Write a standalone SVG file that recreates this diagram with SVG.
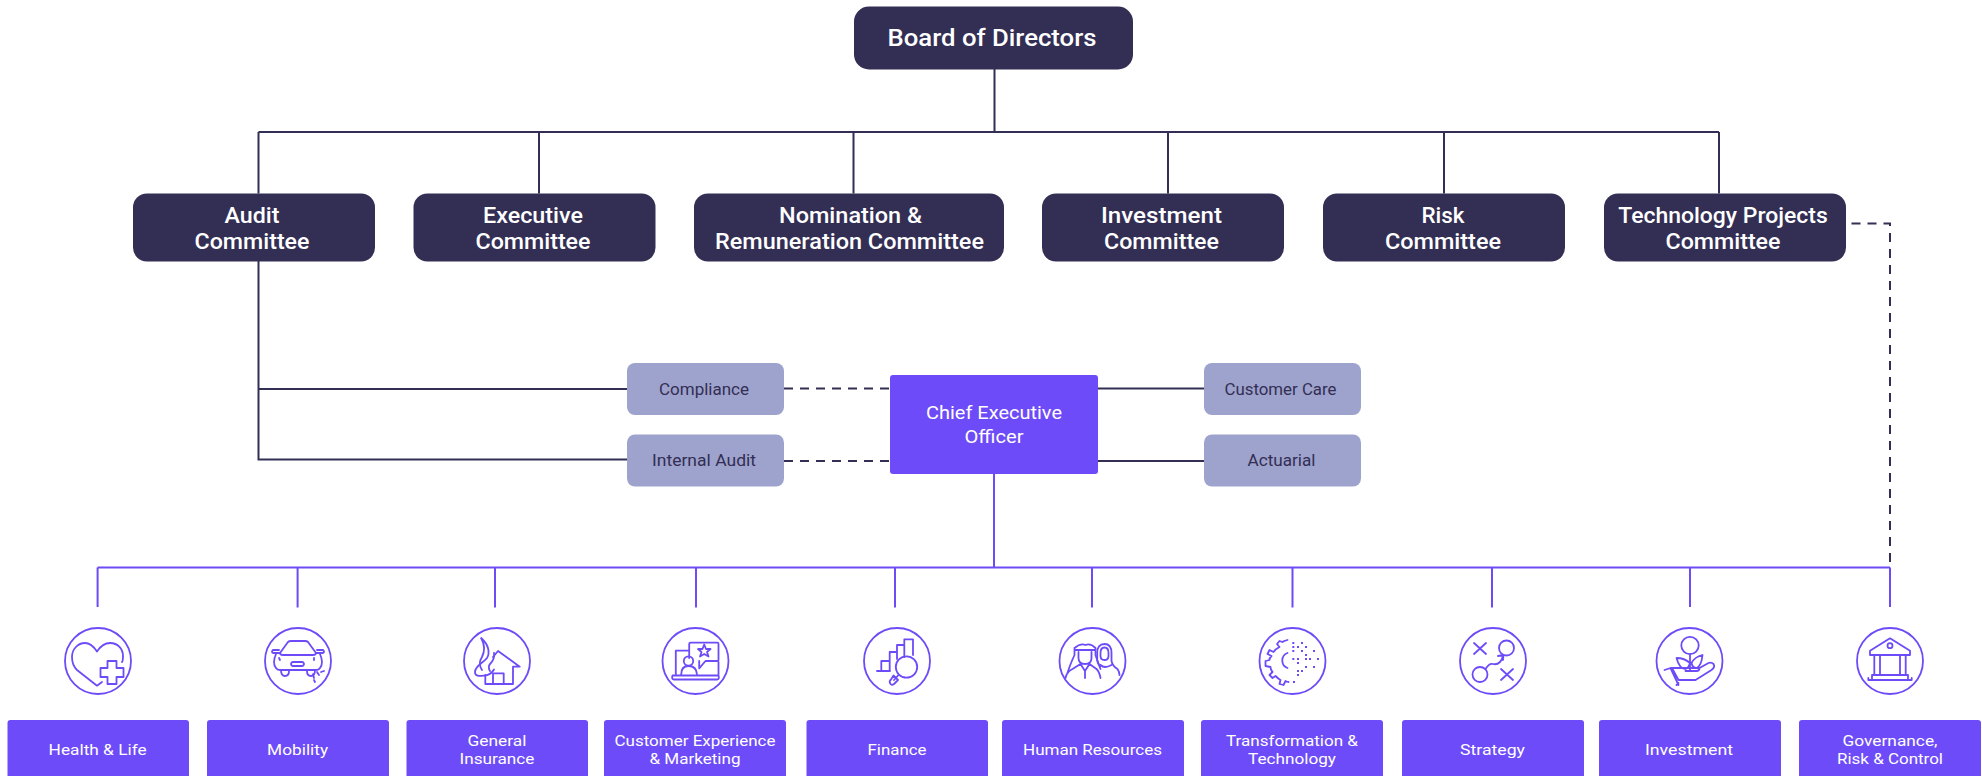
<svg xmlns="http://www.w3.org/2000/svg" width="1982" height="776" viewBox="0 0 1982 776">
<style>
text{font-family:Roboto,"Liberation Sans",sans-serif;text-anchor:middle}
.dk{fill:#332e54}.lt{fill:#9ea3cd}.pu{fill:#6e4bf8}
.t1{font-size:24px;font-weight:500;fill:#fff}
.t2{font-size:22px;font-weight:500;fill:#fff}
.t3{font-size:17px;font-weight:400;fill:#332e54}
.t4{font-size:18.500px;font-weight:400;fill:#fff}
.t5{font-size:15.300px;font-weight:400;fill:#fff}
.ld{stroke:#332e54;stroke-width:2;fill:none}
.lp{stroke:#6e4bf8;stroke-width:2;fill:none}
.dash{stroke:#332e54;stroke-width:2;fill:none;stroke-dasharray:9 7}
.ic{stroke:#6e4bf8;stroke-width:1.800;fill:none;stroke-linecap:round;stroke-linejoin:round}
.dot{fill:#6e4bf8}
</style>
<g id="connectors">
<path class="ld" d="M994.500 69V132M258.500 132H1719M258.500 132V193.500M539 132V193.500M853.500 132V193.500M1168 132V193.500M1444 132V193.500M1719 132V193.500"/>
<path class="ld" d="M258.500 261V459.500H627M258.500 389H627"/>
<path class="dash" d="M784 388.500H890M784 461H890"/>
<path class="ld" d="M1098 388.500H1204M1098 461H1204"/>
<path class="dash" d="M1851.500 223.500H1890V567"/>
<path class="lp" d="M994 474V567.500M97.600 567.500H1890M97.600 567.500V607M297.600 567.500V607.500M495 567.500V607.500M696 567.500V607.500M895 567.500V607.500M1092 567.500V607.500M1292.500 567.500V607.500M1492 567.500V607.500M1690 567.500V607M1890 567.500V607"/>
</g>
<g id="board"><rect class="dk" x="854" y="6.500" width="279" height="63" rx="15"/><text class="t1" x="992" y="46" textLength="209" lengthAdjust="spacingAndGlyphs">Board of Directors</text></g>
<g id="audit-committee"><rect class="dk" x="133" y="193.500" width="242" height="68" rx="14"/><text class="t2" x="252" y="223" textLength="55" lengthAdjust="spacingAndGlyphs">Audit</text><text class="t2" x="252" y="249" textLength="115" lengthAdjust="spacingAndGlyphs">Committee</text></g>
<g id="executive-committee"><rect class="dk" x="413.500" y="193.500" width="242" height="68" rx="14"/><text class="t2" x="533" y="223" textLength="100" lengthAdjust="spacingAndGlyphs">Executive</text><text class="t2" x="533" y="249" textLength="115" lengthAdjust="spacingAndGlyphs">Committee</text></g>
<g id="nomination-committee"><rect class="dk" x="694" y="193.500" width="310" height="68" rx="14"/><text class="t2" x="850.500" y="223" textLength="143" lengthAdjust="spacingAndGlyphs">Nomination &amp;</text><text class="t2" x="849.500" y="249" textLength="269" lengthAdjust="spacingAndGlyphs">Remuneration Committee</text></g>
<g id="investment-committee"><rect class="dk" x="1042" y="193.500" width="242" height="68" rx="14"/><text class="t2" x="1161.500" y="223" textLength="121" lengthAdjust="spacingAndGlyphs">Investment</text><text class="t2" x="1161.500" y="249" textLength="115" lengthAdjust="spacingAndGlyphs">Committee</text></g>
<g id="risk-committee"><rect class="dk" x="1323" y="193.500" width="242" height="68" rx="14"/><text class="t2" x="1443" y="223" textLength="43" lengthAdjust="spacingAndGlyphs">Risk</text><text class="t2" x="1443" y="249" textLength="116" lengthAdjust="spacingAndGlyphs">Committee</text></g>
<g id="technology-committee"><rect class="dk" x="1604" y="193.500" width="242" height="68" rx="14"/><text class="t2" x="1723" y="223" textLength="209.500" lengthAdjust="spacingAndGlyphs">Technology Projects</text><text class="t2" x="1723" y="249" textLength="115" lengthAdjust="spacingAndGlyphs">Committee</text></g>
<g id="compliance"><rect class="lt" x="627" y="363" width="157" height="52" rx="8"/><text class="t3" x="704" y="395" textLength="90" lengthAdjust="spacingAndGlyphs">Compliance</text></g>
<g id="internal-audit"><rect class="lt" x="627" y="434.500" width="157" height="52" rx="8"/><text class="t3" x="704" y="466" textLength="104" lengthAdjust="spacingAndGlyphs">Internal Audit</text></g>
<g id="ceo"><rect class="pu" x="890" y="375" width="208" height="99" rx="3"/><text class="t4" x="994" y="419" textLength="136" lengthAdjust="spacingAndGlyphs">Chief Executive</text><text class="t4" x="994" y="442.500" textLength="59" lengthAdjust="spacingAndGlyphs">Officer</text></g>
<g id="customer-care"><rect class="lt" x="1204" y="363" width="157" height="52" rx="8"/><text class="t3" x="1280.500" y="395" textLength="112" lengthAdjust="spacingAndGlyphs">Customer Care</text></g>
<g id="actuarial"><rect class="lt" x="1204" y="434.500" width="157" height="52" rx="8"/><text class="t3" x="1281.500" y="466" textLength="68" lengthAdjust="spacingAndGlyphs">Actuarial</text></g>

<g id="health-life"><g class="ic" transform="translate(98 661)"><circle r="33"/><path d="M4 21 L-1 24.700 L-21 9 C-25 5 -26 0 -26 -4 C-26 -12 -20 -18 -13 -18 C-8 -18 -4 -14 -1 -9.500 C2 -14 6 -18 12 -18 C20 -18 25 -12 25 -5 C25 -2 25 0 24 1"/><path d="M9.500 0H18.500V7H25.500V16H18.500V23H9.500V16H2.500V7H9.500Z" fill="#fff"/></g><rect class="pu" x="7.500" y="720" width="181.500" height="60" rx="3"/><text class="t5" x="97.600" y="755" textLength="98" lengthAdjust="spacingAndGlyphs">Health &amp; Life</text></g>

<g id="mobility"><g class="ic" transform="translate(298 661)"><circle r="33"/><path d="M-18 -8 L-10 -19 Q-9 -20 -7 -20 H7 Q9 -20 10 -19 L18 -8 Q18 -6 15 -6 H-15 Q-18 -6 -18 -8Z"/><path d="M-18 -8H-25Q-27 -9 -25 -11L-19 -11M18 -8H25Q27 -9 25 -11L19 -11M-22 -7Q-26 2 -22 7Q-21 9 -18 9H18Q21 9 22 7Q26 2 22 -7"/><path d="M-17 9Q-17 15 -13 15Q-9 15 -9 10M9 10Q9 15 13 15Q17 15 17 9"/><rect x="-7" y="1" width="13" height="4" rx="2"/><path d="M-19 -3 L-18 -1M16 -3 L16 -1M15 13L16 17M19 11L21 14M23 11L26 10M16 19 L17 21"/></g><rect class="pu" x="207" y="720" width="182" height="60" rx="3"/><text class="t5" x="297.600" y="755" textLength="61" lengthAdjust="spacingAndGlyphs">Mobility</text></g>

<g id="general-insurance"><g class="ic" transform="translate(497 661)"><circle r="33"/><path d="M-4 -4L1 -10L22.700 5.700H16V23H-11.700V14M-4 23V12.300H6.700V23"/><path d="M-15.700 -22.700C-8 -16 -7 -8 -10 -3C-14 2 -22 5 -22 11C-22 16 -17 15 -12 14.500C-8 14 -5 12 -3 8.500"/><path d="M-15.700 -22.700C-11 -14 -13 -8 -15 -4C-19 2 -17 6 -15 9M-3 -8C-2 -3 -4 0 -7 3C-9 5 -8 9 -7 10"/></g><rect class="pu" x="406.500" y="720" width="181.500" height="60" rx="3"/><text class="t5" x="497" y="746" textLength="59" lengthAdjust="spacingAndGlyphs">General</text><text class="t5" x="497" y="764" textLength="75" lengthAdjust="spacingAndGlyphs">Insurance</text></g>

<g id="customer-experience"><g class="ic" transform="translate(695.500 661)"><circle r="33"/><path d="M-19.700 14V-10.300H-7M23 1V14M-23 14.500H23Q24 18 22 18.500H-22Q-24 18 -23 14.500Z"/><path d="M-6.300 -3V-17Q-6.300 -18.300 -5 -18.300H22Q23 -18.300 23 -17V-1Q23 0 22 0H10L3.700 7.300V0"/><circle cx="-7" cy="0" r="4.700"/><path d="M-14.300 13.500Q-14.300 5 -7 5Q1 5 1.500 13.500"/><path d="M8.700 -16.500L10.500 -12H15L11.500 -9L13 -4.500L8.700 -7L4.500 -4.500L6 -9L2.500 -12H7Z"/></g><rect class="pu" x="604" y="720" width="182" height="60" rx="3"/><text class="t5" x="695" y="746" textLength="161" lengthAdjust="spacingAndGlyphs">Customer Experience</text><text class="t5" x="695" y="764" textLength="91" lengthAdjust="spacingAndGlyphs">&amp; Marketing</text></g>

<g id="finance"><g class="ic" transform="translate(897 661)"><circle r="33"/><path d="M-20 10H-7M-15.700 10V0H-7.300M-7.300 10V-9H0V-4M0 -2V-16H7.300V-4M7.300 -16V-21.700H16V-6"/><circle cx="9.500" cy="6" r="10.700"/><path d="M1.500 14L-3 19M-3.500 14.500L1 19L-3 23Q-6 25 -7 22Q-8 20 -6 18.500Z"/></g><rect class="pu" x="806.500" y="720" width="181.500" height="60" rx="3"/><text class="t5" x="897" y="755" textLength="59" lengthAdjust="spacingAndGlyphs">Finance</text></g>

<g id="human-resources"><g class="ic" transform="translate(1092.500 661)"><circle r="33"/><path d="M-18 -13Q-12 -18 -7 -16Q-2 -18 3 -13M-18 -11H3M-18 -13V-6Q-23 5 -25 12M3 -13V-6Q6 3 8 8"/><path d="M-14 -9V-3Q-14 3 -7.500 3Q-1 3 -1 -3V-9M-12 3L-20 8Q-26 11 -27 17M-3 3L4 8Q7 11 8 17M-12 3L-7.500 10L-3 3M-7.500 10V17"/><path d="M4.700 -8Q4.700 -17 12 -17Q19 -17 19 -8V0Q20 5 25 8Q27 11 27 14M4.700 -8V-1Q5 3 8 5M8 -8Q8 -13.500 12 -13.500Q16 -13.500 16 -8V-5Q16 -1 12 -1Q8 -1 8 -5Z"/><path d="M8 4Q12 8 19 4"/></g><rect class="pu" x="1002" y="720" width="182" height="60" rx="3"/><text class="t5" x="1092.500" y="755" textLength="139" lengthAdjust="spacingAndGlyphs">Human Resources</text></g>

<g id="transformation-technology"><g class="ic" transform="translate(1292.500 661)"><circle r="33"/><path d="M-5 -21Q-9 -20 -10 -19L-13 -20L-15.500 -17L-13 -14Q-17 -12 -19 -9L-23 -11L-25 -7L-21 -5Q-23 -3 -23 -1L-27 0V5L-22 6Q-22 9 -20 11L-23 14L-20 17L-17 15Q-14 18 -12 19L-13 23L-9 24L-7 20Q-5 21 -4 21"/><path d="M-5 -8A8 8 0 0 0 -5 7"/></g><g class="dot" transform="translate(1250 620)"><rect x="42.300" y="22" width="2" height="2"/><rect x="42.300" y="26" width="2" height="2"/><rect x="42.300" y="30" width="2" height="2"/><rect x="47" y="26" width="2" height="2"/><rect x="51" y="22" width="2" height="2"/><rect x="51" y="30" width="2" height="2"/><rect x="55" y="26" width="2" height="2"/><rect x="63" y="30" width="2" height="2"/><rect x="42.300" y="38" width="2" height="2"/><rect x="47" y="38" width="2" height="2"/><rect x="47" y="42" width="2" height="2"/><rect x="55" y="34" width="2" height="2"/><rect x="55" y="38" width="2" height="2"/><rect x="59" y="38" width="2" height="2"/><rect x="67" y="38" width="2" height="2"/><rect x="55" y="46" width="2" height="2"/><rect x="63" y="46" width="2" height="2"/><rect x="47" y="50" width="2" height="2"/><rect x="51" y="50" width="2" height="2"/><rect x="47" y="54" width="2" height="2"/><rect x="43" y="61" width="2" height="2"/></g><rect class="pu" x="1201" y="720" width="182" height="60" rx="3"/><text class="t5" x="1292" y="746" textLength="132" lengthAdjust="spacingAndGlyphs">Transformation &amp;</text><text class="t5" x="1292" y="764" textLength="88" lengthAdjust="spacingAndGlyphs">Technology</text></g>

<g id="strategy"><g class="ic" transform="translate(1493 661)"><circle r="33"/><path d="M-19 -18L-7 -7M-7 -18L-19 -7M8 8L20 19M20 8L8 19"/><circle cx="13.500" cy="-13" r="7.500"/><circle cx="-13" cy="13.500" r="7.500"/><path d="M-7.500 8Q-4 2 0 3Q4 4 7 1Q9 -1 10 -5M5 -5L10.500 -6L10 -1"/></g><rect class="pu" x="1402" y="720" width="182" height="60" rx="3"/><text class="t5" x="1492.500" y="755" textLength="65" lengthAdjust="spacingAndGlyphs">Strategy</text></g>

<g id="investment"><g class="ic" transform="translate(1689.500 661)"><circle r="33"/><circle cx="0.500" cy="-15.500" r="8.700"/><path d="M0.500 -7V9M-13 -3Q-5 -3 0.500 2Q-1 7 -4 8Q-10 8 -13 -3ZM13 -6Q5 -4 2 2Q3 7 7 7Q12 5 13 -6Z"/><path d="M-4 10H7Q10 10 10 7H-8L-19 7L-25 9M-19 7L-11 24M-11 22L-13 24M-17 8L-11 19H6L22 9Q26 6 24 3Q22 1 19 2L10 7"/></g><rect class="pu" x="1599" y="720" width="182" height="60" rx="3"/><text class="t5" x="1689" y="755" textLength="88" lengthAdjust="spacingAndGlyphs">Investment</text></g>

<g id="governance"><g class="ic" transform="translate(1890 661)"><circle r="33"/><path d="M0 -22.700L20 -10.300V-6H-20V-10.300Z"/><circle cx="0" cy="-15.300" r="2.500"/><path d="M-15.700 -6V14M-10 -6V14M10 -6V14M15.700 -6V14M-18 14H18M-21.700 19H21.700M-18 14V19M18 14V19M-21.700 19V17M21.700 19V17"/></g><rect class="pu" x="1799" y="720" width="182" height="60" rx="3"/><text class="t5" x="1890" y="746" textLength="95" lengthAdjust="spacingAndGlyphs">Governance,</text><text class="t5" x="1890" y="764" textLength="106" lengthAdjust="spacingAndGlyphs">Risk &amp; Control</text></g>
</svg>
